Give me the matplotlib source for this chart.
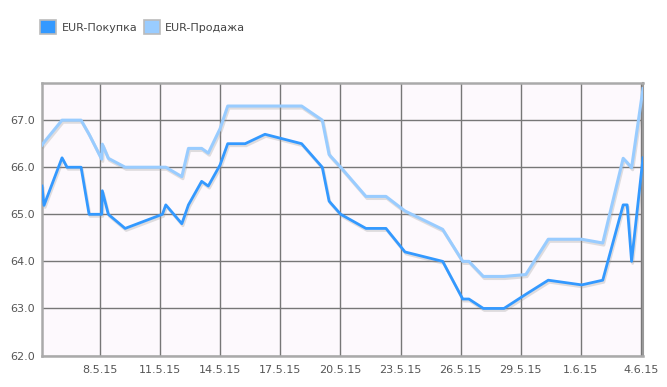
import matplotlib
matplotlib.use("Agg")
import matplotlib.pyplot as plt
import matplotlib.patheffects as pe
from matplotlib.patches import Rectangle

# day number counted from 1 May 2015 (June days continue as 32, 33, ...)
days = [5.1, 5.2, 6.1, 6.35, 7.05, 7.45, 8.08, 8.11, 8.41, 9.25,
        11.11, 11.28, 12.08, 12.41, 13.07, 13.40, 13.99, 14.37, 15.24, 16.23,
        18.06, 19.09, 19.43, 20.01, 21.27, 22.27, 23.22, 25.1, 26.1, 26.41,
        27.13, 28.16, 29.25, 30.37, 32.04, 33.09, 34.11, 34.31, 34.53, 35.1]

buy = [65.6, 65.19, 66.2, 66.0, 66.0, 65.0, 65.0, 65.5, 65.0, 64.7,
       65.0, 65.2, 64.8, 65.2, 65.7, 65.6, 66.05, 66.5, 66.5, 66.7,
       66.5, 66.0, 65.28, 65.0, 64.7, 64.7, 64.2, 64.0, 63.2, 63.2,
       63.0, 63.0, 63.3, 63.6, 63.5, 63.6, 65.2, 65.2, 64.0, 66.2]

sell = [66.47, 66.53, 67.0, 67.0, 67.0, 66.7, 66.17, 66.49, 66.19, 66.0,
        66.0, 66.0, 65.8, 66.4, 66.4, 66.3, 66.82, 67.3, 67.3, 67.3,
        67.3, 67.0, 66.27, 66.0, 65.38, 65.38, 65.07, 64.68, 64.0, 64.0,
        63.68, 63.68, 63.72, 64.47, 64.47, 64.39, 66.19, 66.1, 65.99, 67.67]

tick_days = [8, 11, 14, 17, 20, 23, 26, 29, 32, 35]
tick_labels = ["8.5.15", "11.5.15", "14.5.15", "17.5.15", "20.5.15",
               "23.5.15", "26.5.15", "29.5.15", "1.6.15", "4.6.15"]
y_ticks = [62, 63, 64, 65, 66, 67]

buy_color = "#3399ff"
sell_color = "#99ccff"

fig = plt.figure(figsize=(6.67, 3.87), dpi=100)
ax = fig.add_axes([42 / 667, 1 - 355.5 / 387, 601 / 667, 273 / 387])
ax.set_facecolor("#fdf9fd")

shadow = [pe.SimpleLineShadow(offset=(0.8, -1.5), shadow_color="#999999", alpha=0.3),
          pe.Normal()]
ax.plot(days, sell, color=sell_color, lw=2.2, path_effects=shadow, zorder=3)
ax.plot(days, buy, color=buy_color, lw=2.0, path_effects=shadow, zorder=4)

ax.set_xlim(5.1, 35.1)
ax.set_ylim(62, 67.8)
ax.set_xticks(tick_days)
ax.set_xticklabels(tick_labels)
ax.set_yticks(y_ticks)
ax.set_yticklabels([f"{v:.1f}" for v in y_ticks])
ax.tick_params(length=0, labelsize=8, labelcolor="#555555")
ax.tick_params(axis="y", pad=5)
ax.tick_params(axis="x", pad=7)
ax.grid(True, color="#777777", lw=1)
ax.set_axisbelow(True)
for side in ["left", "bottom", "top"]:
    ax.spines[side].set_color("#aaaaaa")
    ax.spines[side].set_linewidth(1.8)
ax.spines["right"].set_color("#999999")
ax.spines["right"].set_linewidth(1.5)

handles = [Rectangle((0, 0), 1, 1, facecolor=buy_color, edgecolor="#bbbbbb", lw=1.2),
           Rectangle((0, 0), 1, 1, facecolor=sell_color, edgecolor="#bbbbbb", lw=1.2)]
fig.legend(handles, ["EUR-Покупка", "EUR-Продажа"], loc="upper left",
           bbox_to_anchor=(30 / 667, 1 - 10 / 387), ncol=2, frameon=False,
           fontsize=8, labelcolor="#444444", handlelength=1.45, handleheight=1.6,
           handletextpad=0.5, columnspacing=0.55)

fig.savefig("out.png", dpi=100)
